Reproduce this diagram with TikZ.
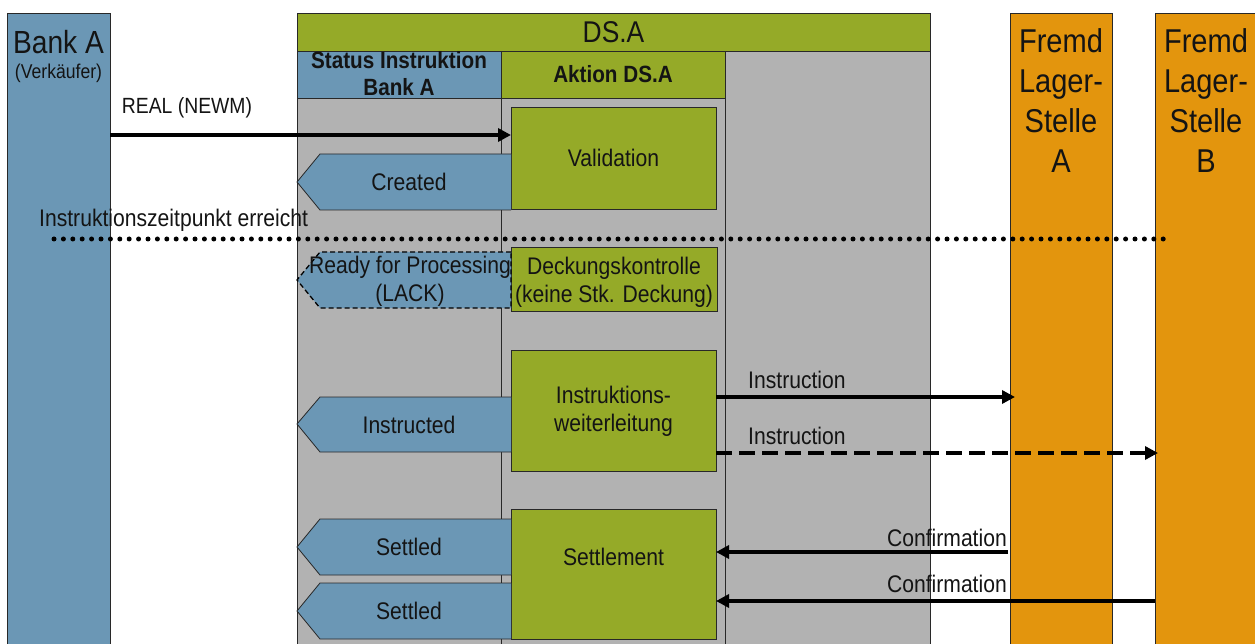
\documentclass[tikz,border=0pt]{standalone}
\usepackage{fontspec}
\setmainfont{Liberation Sans}[FakeStretch=0.88]
\usetikzlibrary{arrows.meta}

\definecolor{laneblue}{RGB}{107,151,181}
\definecolor{dsgreen}{RGB}{149,170,40}
\definecolor{dsgray}{RGB}{178,178,178}
\definecolor{cusorange}{RGB}{227,149,13}
\definecolor{edge}{RGB}{40,40,40}
\definecolor{ink}{RGB}{20,20,20}

\newcommand\fsnormal{\fontsize{24}{28}\selectfont}
\newcommand\fshead{\fontsize{23.5}{27}\selectfont\bfseries}
\newcommand\fsbig{\fontsize{33}{40}\selectfont}
\newcommand\fssmall{\fontsize{20}{22}\selectfont}

\begin{document}
\begin{tikzpicture}[x=1pt,y=-1pt,
  frame/.style={draw=edge, line width=0.8pt},
  area/.style={frame, anchor=north west, inner sep=0pt, outer sep=0pt},
  actbox/.style={area, fill=dsgreen},
  txt/.style={text=ink, font=\fsnormal, align=center, inner sep=0pt},
  status/.style={frame, fill=laneblue},
  msg/.style={line width=3.5pt, draw=black, -{Triangle[length=13pt,width=13pt]}},
  dotline/.style={line width=5pt, line cap=round, dash pattern=on 0pt off 9.4pt}
]
\useasboundingbox (0,0) rectangle (1255,644);

% participants
\node[area, fill=laneblue, minimum width=103pt, minimum height=640pt] (bankA) at (7,13) {};
\node[area, fill=cusorange, minimum width=102pt, minimum height=640pt] (fremdA) at (1010,13) {};
\node[area, fill=cusorange, minimum width=103pt, minimum height=640pt] (fremdB) at (1155,13) {};

% DS.A block with its columns
\node[area, fill=dsgray, minimum width=633pt, minimum height=600pt] (dsbody) at (297,51) {};
\node[area, fill=dsgreen, minimum width=633pt, minimum height=38pt] (dshead) at (297,13) {};
\node[area, fill=laneblue, minimum width=204pt, minimum height=47pt] (colstatus) at (297,51) {};
\node[area, fill=dsgreen, minimum width=224pt, minimum height=47pt] (colaction) at (501,51) {};
\draw[frame] (colstatus.south east) -- (colstatus.south east |- dsbody.south);
\draw[frame] (colaction.south east) -- (colaction.south east |- dsbody.south);

% titles
\node[txt, font=\fontsize{32}{38}\selectfont] (tBank) at (58.5,42) {Bank A};
\node[txt, font=\fssmall] (tVerk) at (58.5,73) {(Verkäufer)};
\node[txt, font=\fontsize{30}{36}\selectfont] (tDS) at (613.5,32) {DS.A};
\node[txt, font=\fshead] (tStatus) at (399,74) {Status Instruktion\\Bank A};
\node[txt, font=\fshead] (tAktion) at (613,74) {Aktion DS.A};
\node[txt, font=\fsbig, text depth=0pt] (tFremdA) at (1061,101) {Fremd\\Lager-\\Stelle\\A};
\node[txt, font=\fsbig, text depth=0pt] (tFremdB) at (1206,101) {Fremd\\Lager-\\Stelle\\B};

% actions of DS.A
\node[actbox, minimum width=205pt, minimum height=102pt] (valid) at (511,107) {};
\node[txt] (tValid) at (613.5,158) {Validation};
\node[actbox, minimum width=206pt, minimum height=64pt] (deck) at (511,247) {};
\node[txt] (tDeck) at (614,282) {Deckungskontrolle\\(keine Stk. Deckung)};
\node[actbox, minimum width=205pt, minimum height=121pt] (weiter) at (511,350) {};
\node[txt] (tWeiter) at (613.5,411) {Instruktions-\\weiterleitung};
\node[actbox, minimum width=205pt, minimum height=130pt] (settle) at (511,509) {};
\node[txt] (tSettle) at (613.5,557) {Settlement};

% status tags pointing back to the bank column
\draw[status] (valid.west |- 0,154) -- (320,154) -- (297,182) -- (320,210) -- (valid.west |- 0,210);
\node[txt] (tCreated) at (409,182) {Created};
\draw[status, draw=black, line width=1.3pt, dash pattern=on 5pt off 3pt] (deck.west |- 0,252) -- (320,252) -- (297,280) -- (320,308) -- (deck.west |- 0,308) -- cycle;
\node[txt] (tReady) at (410,281) {Ready for Processing\\(LACK)};
\draw[status] (weiter.west |- 0,397) -- (320,397) -- (297,424) -- (320,452) -- (weiter.west |- 0,452);
\node[txt] (tInstr) at (409,425) {Instructed};
\draw[status] (settle.west |- 0,519) -- (320,519) -- (297,547) -- (320,575) -- (settle.west |- 0,575);
\node[txt] (tSet1) at (409,547) {Settled};
\draw[status] (settle.west |- 0,583) -- (320,583) -- (297,611) -- (320,639) -- (settle.west |- 0,639);
\node[txt] (tSet2) at (409,611) {Settled};

% point in time marker
\node[txt, anchor=west] (tZeit) at (39,220) {Instruktionszeitpunkt erreicht};
\coordinate (zeitL) at (54,239);
\coordinate (zeitR) at (1170,239);
\draw[dotline] (zeitL) -- (zeitR);

% messages
\draw[msg] (bankA.east |- 0,135) -- (valid.west |- 0,135);
\node[txt, font=\fontsize{22}{26}\selectfont] (lReal) at (187,108) {REAL (NEWM)};

\draw[msg] (weiter.east |- 0,397) -- ([xshift=5pt]fremdA.west |- 0,397);
\node[txt, anchor=west] (lInstA) at (748,380) {Instruction};
\draw[msg, dash pattern=on 16pt off 7pt] (weiter.east |- 0,453) -- ([xshift=3pt]fremdB.west |- 0,453);
\node[txt, anchor=west] (lInstB) at (748,436) {Instruction};

\draw[msg] ([xshift=-2pt]fremdA.west |- 0,552) -- (settle.east |- 0,552);
\node[txt, anchor=east] (lConfA) at (1007,538) {Confirmation};
\draw[msg] (fremdB.west |- 0,601) -- (settle.east |- 0,601);
\node[txt, anchor=east] (lConfB) at (1007,584) {Confirmation};
\end{tikzpicture}
\end{document}
